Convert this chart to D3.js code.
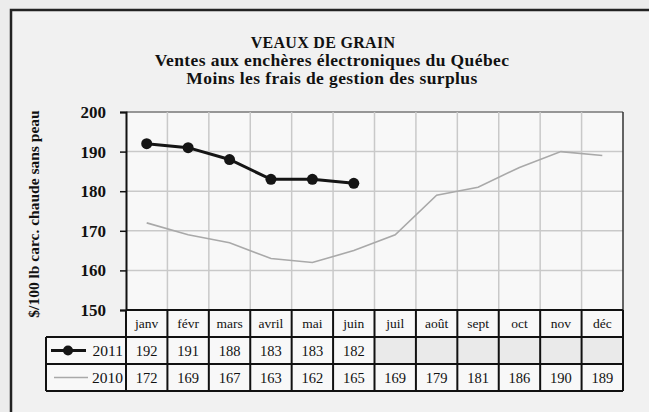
<!DOCTYPE html>
<html>
<head>
<meta charset="utf-8">
<script src="https://cdn.jsdelivr.net/npm/d3@7"></script>
<style>
  body { margin: 0; background: #ededed; }
  svg text { font-family: "Liberation Serif", "Times New Roman", serif; font-weight: bold; fill: #111; }
</style>
</head>
<body>
<svg id="chart" width="649" height="412"></svg>
<script>
// data
const months = ["janv", "févr", "mars", "avril", "mai", "juin", "juil", "août", "sept", "oct", "nov", "déc"];
const values2011 = [192, 191, 188, 183, 183, 182];
const values2010 = [172, 169, 167, 163, 162, 165, 169, 179, 181, 186, 190, 189];
const yTicks = [150, 160, 170, 180, 190, 200];
const titleLines = ["VEAUX DE GRAIN", "Ventes aux enchères électroniques du Québec", "Moins les frais de gestion des surplus"];

const svg = d3.select("#chart");

// outer frame
svg.append("rect").attr("x", 0).attr("y", 0).attr("width", 649).attr("height", 412).style("fill", "#ececec");
svg.append("rect")
  .attr("x", 11).attr("y", 10).attr("width", 660).attr("height", 420)
  .style("fill", "#f1f1f1").style("stroke", "#222").style("stroke-width", 2.5);

// titles
svg.selectAll(".title")
  .data(titleLines)
  .enter()
  .append("text")
  .attr("class", "title")
  .attr("x", (d, i) => (i === 0 ? 323 : 332))
  .attr("y", (d, i) => 48 + i * 18)
  .attr("text-anchor", "middle")
  .style("font-size", (d, i) => (i === 0 ? "16px" : "17.5px"))
  .style("letter-spacing", (d, i) => (i === 0 ? "0.3px" : "0.4px"))
  .text((d) => d);

// scales
const x = d3.scaleBand().domain(months).range([126, 623]);
const y = d3.scaleLinear().domain([150, 200]).range([310, 112]);

// plot area
svg.append("rect")
  .attr("x", x.range()[0]).attr("y", y(200))
  .attr("width", x.range()[1] - x.range()[0]).attr("height", y(150) - y(200))
  .style("fill", "#f8f8f8");

// grid
svg.append("g")
  .selectAll("line")
  .data(yTicks.slice(1))
  .enter()
  .append("line")
  .attr("x1", x.range()[0]).attr("x2", x.range()[1])
  .attr("y1", (d) => y(d)).attr("y2", (d) => y(d))
  .style("stroke", (d) => (d === 200 ? "#777" : "#c9c9c9"))
  .style("stroke-width", 1.5);

svg.append("g")
  .selectAll("line")
  .data(months.slice(1))
  .enter()
  .append("line")
  .attr("x1", (d) => x(d)).attr("x2", (d) => x(d))
  .attr("y1", y(200)).attr("y2", y(150))
  .style("stroke", "#c9c9c9")
  .style("stroke-width", 1.5);

// right border
svg.append("line")
  .attr("x1", x.range()[1]).attr("x2", x.range()[1])
  .attr("y1", y(200)).attr("y2", y(150))
  .style("stroke", "#333").style("stroke-width", 1.5);

// y axis
const yAxis = d3.axisLeft(y).tickValues(yTicks).tickSize(6).tickPadding(14);
const gy = svg.append("g").attr("transform", `translate(${x.range()[0]},0)`).call(yAxis);
gy.select(".domain").style("stroke", "#111").style("stroke-width", 2);
gy.selectAll(".tick line").style("stroke", "#111").style("stroke-width", 1.5);
gy.selectAll(".tick text").style("font-size", "17px").style("font-family", "Liberation Serif").style("font-weight", "bold").attr("fill", "#111");

// y title
svg.append("text")
  .attr("transform", `translate(39,${(y(200) + y(150)) / 2 + 3}) rotate(-90)`)
  .attr("text-anchor", "middle")
  .style("font-size", "15.5px")
  .text("$/100 lb carc. chaude sans peau");

// 2010 line
const line = d3.line().x((d, i) => x(months[i]) + x.bandwidth() / 2).y((d) => y(d));
svg.append("path")
  .datum(values2010)
  .attr("d", line)
  .style("fill", "none").style("stroke", "#a9a9a9").style("stroke-width", 1.6);

// 2011 line
svg.append("path")
  .datum(values2011)
  .attr("d", line)
  .style("fill", "none").style("stroke", "#151515").style("stroke-width", 3);

svg.selectAll(".dot")
  .data(values2011)
  .enter()
  .append("circle")
  .attr("class", "dot")
  .attr("cx", (d, i) => x(months[i]) + x.bandwidth() / 2)
  .attr("cy", (d) => y(d))
  .attr("r", 5.5)
  .style("fill", "#151515");

// data table
const rowH = 27;
const tTop = y(150);
const legX = 46;
const table = svg.append("g");

// cells background
months.forEach((m, i) => {
  [0, 1, 2].forEach((r) => {
    table.append("rect")
      .attr("x", x(m)).attr("y", tTop + r * rowH)
      .attr("width", x.bandwidth()).attr("height", rowH)
      .style("fill", r === 1 && i >= values2011.length ? "#eaeaea" : "#f8f8f8");
  });
});
table.append("rect").attr("x", legX).attr("y", tTop + rowH).attr("width", x.range()[0] - legX).attr("height", rowH * 2).style("fill", "#f8f8f8");

// borders
const tStroke = (sel) => sel.style("stroke", "#111").style("stroke-width", 2).style("fill", "none");
table.append("line").attr("x1", x.range()[0]).attr("x2", x.range()[1]).attr("y1", tTop).attr("y2", tTop).call(tStroke);
[1, 2, 3].forEach((r) => {
  table.append("line").attr("x1", legX).attr("x2", x.range()[1]).attr("y1", tTop + r * rowH).attr("y2", tTop + r * rowH).call(tStroke);
});
months.concat(["end"]).forEach((m, i) => {
  const xx = i < months.length ? x(m) : x.range()[1];
  table.append("line").attr("x1", xx).attr("x2", xx).attr("y1", tTop).attr("y2", tTop + 3 * rowH).call(tStroke);
});
table.append("line").attr("x1", legX).attr("x2", legX).attr("y1", tTop + rowH).attr("y2", tTop + 3 * rowH).call(tStroke);

// month labels
table.selectAll(".month")
  .data(months)
  .enter()
  .append("text")
  .attr("x", (d) => x(d) + x.bandwidth() / 2)
  .attr("y", tTop + rowH / 2 + 4)
  .attr("text-anchor", "middle")
  .style("font-size", "13.5px")
  .style("font-weight", "normal")
  .text((d) => d);

// values
[values2011, values2010].forEach((vals, r) => {
  table.selectAll(".v" + r)
    .data(vals)
    .enter()
    .append("text")
    .attr("x", (d, i) => x(months[i]) + x.bandwidth() / 2)
    .attr("y", tTop + (r + 1) * rowH + rowH / 2 + 5)
    .attr("text-anchor", "middle")
    .style("font-size", "14.5px")
    .style("font-weight", "normal")
    .text((d) => d);
});

// legend keys
const r1 = tTop + rowH * 1.5, r2 = tTop + rowH * 2.5;
table.append("line").attr("x1", 51).attr("x2", 86).attr("y1", r1).attr("y2", r1).style("stroke", "#151515").style("stroke-width", 3);
table.append("circle").attr("cx", 68).attr("cy", r1).attr("r", 5).style("fill", "#151515");
table.append("line").attr("x1", 54).attr("x2", 88).attr("y1", r2).attr("y2", r2).style("stroke", "#a9a9a9").style("stroke-width", 1.6);
table.append("text").attr("x", 123).attr("y", r1 + 5).attr("text-anchor", "end").style("font-size", "15.5px").style("font-weight", "normal").text("2011");
table.append("text").attr("x", 123).attr("y", r2 + 5).attr("text-anchor", "end").style("font-size", "15.5px").style("font-weight", "normal").text("2010");
</script>
</body>
</html>
